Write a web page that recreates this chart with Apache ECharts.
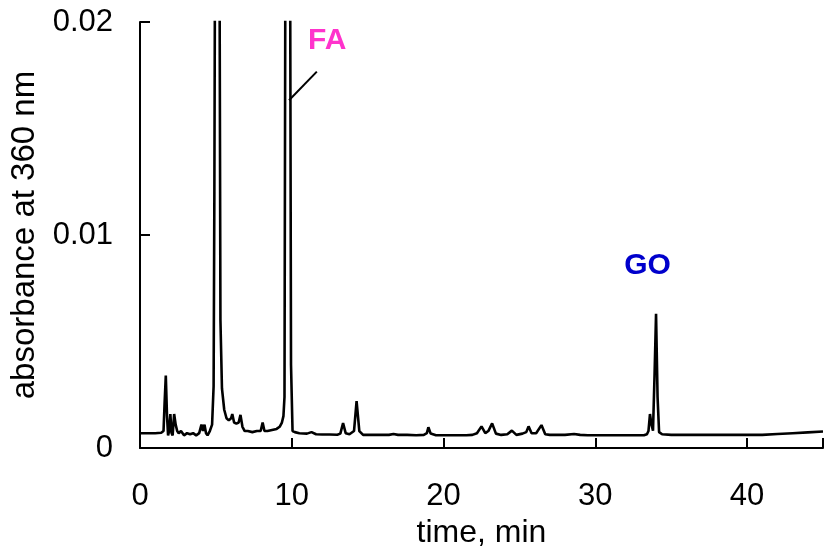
<!DOCTYPE html>
<html>
<head>
<meta charset="utf-8">
<script src="https://cdn.jsdelivr.net/npm/echarts@6/dist/echarts.min.js"></script>
<style>html,body{margin:0;padding:0;background:#fff}#c{width:826px;height:554px}</style>
</head>
<body>
<div id="c"></div>
<script>
// retention time (min)
var timeMin = [0, 0.5, 1.0, 1.4, 1.55, 1.62, 1.7, 1.78, 1.85, 1.92, 2.0, 2.08, 2.15, 2.25, 2.35, 2.45, 2.55, 2.7, 2.9, 3.1, 3.3, 3.5, 3.7, 3.9, 4.05, 4.15, 4.25, 4.35, 4.45, 4.6, 4.75, 4.85, 4.9, 4.93, 5.08, 5.25, 5.3, 5.4, 5.55, 5.7, 5.85, 6.0, 6.08, 6.2, 6.35, 6.5, 6.62, 6.75, 6.9, 7.1, 7.4, 7.7, 7.95, 8.08, 8.2, 8.4, 8.7, 9.0, 9.2, 9.35, 9.45, 9.52, 9.57, 9.73, 9.9, 9.95, 10.05, 10.2, 10.5, 11.0, 11.3, 11.6, 12.0, 12.5, 13.0, 13.2, 13.38, 13.55, 13.8, 14.1, 14.27, 14.45, 14.7, 15.2, 15.8, 16.4, 16.7, 17.0, 17.6, 18.2, 18.7, 18.9, 19.0, 19.15, 19.5, 20.0, 20.5, 21.0, 21.5, 21.9, 22.2, 22.5, 22.75, 22.95, 23.2, 23.45, 23.8, 24.2, 24.5, 24.8, 25.2, 25.45, 25.6, 25.8, 26.1, 26.45, 26.7, 27.0, 27.5, 28.0, 28.6, 29.0, 29.5, 30.0, 31.0, 32.0, 32.8, 33.2, 33.4, 33.5, 33.6, 33.7, 33.8, 33.9, 34.0, 34.1, 34.2, 34.4, 35.0, 36.0, 37.0, 38.0, 39.0, 40.0, 41.0, 42.0, 43.0, 44.0, 45.0];
// absorbance at 360 nm
var absorbance = [0.0007, 0.0007, 0.0007, 0.00072, 0.0008, 0.0021, 0.0034, 0.0015, 0.0006, 0.0008, 0.0016, 0.0007, 0.0006, 0.0016, 0.0011, 0.0008, 0.0007, 0.0008, 0.0006, 0.0007, 0.00065, 0.0007, 0.0006, 0.0007, 0.0011, 0.0008, 0.0011, 0.0007, 0.0006, 0.0008, 0.0011, 0.0029, 0.012, 0.02, 0.08, 0.02, 0.006, 0.0028, 0.0018, 0.0014, 0.0013, 0.0014, 0.0016, 0.0012, 0.00115, 0.0012, 0.00156, 0.001, 0.0008, 0.0008, 0.00075, 0.0008, 0.0008, 0.0012, 0.0008, 0.0008, 0.00085, 0.0009, 0.001, 0.0012, 0.0015, 0.0024, 0.02, 0.08, 0.02, 0.0039, 0.0008, 0.00075, 0.0007, 0.00068, 0.00075, 0.00065, 0.00064, 0.00064, 0.00063, 0.00068, 0.00118, 0.0007, 0.00065, 0.0008, 0.0022, 0.0008, 0.00062, 0.00062, 0.00062, 0.00062, 0.00066, 0.00062, 0.00062, 0.0006, 0.00062, 0.0007, 0.00098, 0.00068, 0.0006, 0.0006, 0.0006, 0.0006, 0.0006, 0.00062, 0.0007, 0.00102, 0.0007, 0.0008, 0.00116, 0.00068, 0.00062, 0.00065, 0.00082, 0.00062, 0.00068, 0.00075, 0.00102, 0.0007, 0.0007, 0.00108, 0.00065, 0.00062, 0.00062, 0.00062, 0.00066, 0.00062, 0.0006, 0.0006, 0.0006, 0.0006, 0.0006, 0.0006, 0.00065, 0.0008, 0.0016, 0.0011, 0.00082, 0.0034, 0.0063, 0.0024, 0.00075, 0.00065, 0.00062, 0.00062, 0.00062, 0.00062, 0.00062, 0.00063, 0.00062, 0.00066, 0.0007, 0.00074, 0.00078];
var xTicks = [0, 10, 20, 30, 40];
var yTicks = [0, 0.01, 0.02];
var peakNames = ['FA', 'GO'];
var peakColors = ['#ff33cc', '#0000cc'];
var peakLabelPos = [[12.33, 0.0191], [33.44, 0.00856]];
var faPointer = [[11.65, 0.01767], [9.82, 0.01633]];

var chart = echarts.init(document.getElementById('c'), null, {renderer: 'canvas'});
var font = 'Liberation Sans, Arial, Helvetica, sans-serif';
var lineData = timeMin.map(function (t, i) { return [t, absorbance[i]]; });
chart.setOption({
  animation: false,
  backgroundColor: '#fff',
  grid: {left: 140, right: 0, top: 22, bottom: 101, containLabel: false},
  xAxis: {
    type: 'value', min: 0, max: 45, interval: 10,
    name: 'time, min', nameLocation: 'middle', nameGap: 68,
    nameTextStyle: {fontFamily: font, fontSize: 32, color: '#000'},
    axisLine: {show: true, onZero: false, lineStyle: {color: '#000', width: 2}},
    axisTick: {show: true, inside: true, length: 10, lineStyle: {color: '#000', width: 2}},
    axisLabel: {fontFamily: font, fontSize: 31, color: '#000', margin: 33,
      formatter: function (v) { return xTicks.indexOf(v) >= 0 ? String(v) : ''; }},
    splitLine: {show: false}
  },
  yAxis: {
    type: 'value', min: 0, max: 0.02, interval: 0.01,
    name: 'absorbance at 360 nm', nameLocation: 'middle', nameGap: 92,
    nameTextStyle: {fontFamily: font, fontSize: 33, color: '#000'},
    axisLine: {show: true, lineStyle: {color: '#000', width: 2}},
    axisTick: {show: true, inside: true, length: 10, lineStyle: {color: '#000', width: 2}},
    axisLabel: {fontFamily: font, fontSize: 31, color: '#000', margin: 27,
      formatter: function (v) {
        for (var i = 0; i < yTicks.length; i++) { if (Math.abs(yTicks[i] - v) < 1e-9) return yTicks[i] === 0 ? '0' : yTicks[i].toFixed(2); }
        return '';
      }},
    splitLine: {show: false}
  },
  series: [
    {
      type: 'line', data: lineData, showSymbol: false, clip: true,
      lineStyle: {color: '#000', width: 2.6}, silent: true,
      markLine: {
        silent: true, symbol: 'none', label: {show: false},
        lineStyle: {color: '#000', width: 2, type: 'solid', opacity: 1},
        data: [[{coord: faPointer[0]}, {coord: faPointer[1]}]]
      }
    },
    {
      type: 'scatter', symbolSize: 0, silent: true,
      itemStyle: {opacity: 1},
      data: peakLabelPos.map(function (p, i) {
        return {value: p, name: peakNames[i],
          label: {color: peakColors[i], opacity: 1}};
      }),
      label: {
        show: true, position: 'inside', fontFamily: font, fontSize: 30, fontWeight: 'bold',
        formatter: function (p) { return p.name; }, opacity: 1
      }
    }
  ]
});
</script>
</body>
</html>
